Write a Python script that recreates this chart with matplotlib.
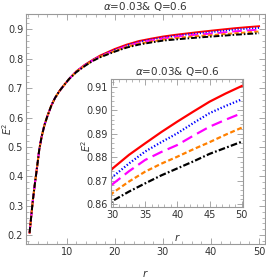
import numpy as np
import matplotlib
matplotlib.use("Agg")
import matplotlib.pyplot as plt
from matplotlib.ticker import MultipleLocator

plt.rcParams['font.family'] = ['Liberation Sans Narrow', 'DejaVu Sans']

# radius grid and E^2 values
r = [2.3, 2.6, 3.0, 3.4, 3.8, 4.3, 4.8, 5.4, 6.0, 6.8, 7.6, 8.5, 9.5, 10.5,
     12, 13.75, 15.5, 17, 20, 22.5, 25, 27.5,
     30, 32.5, 35, 37.5, 40, 42.5, 45, 47.5, 50]

base = [0.208, 0.258, 0.322, 0.375, 0.425, 0.49, 0.535, 0.575, 0.605, 0.64,
        0.667, 0.69, 0.711, 0.731]

e_red = base + [0.757, 0.779, 0.797, 0.811, 0.833, 0.848, 0.860, 0.868,
                0.8753, 0.8810, 0.8859, 0.8907, 0.8952, 0.8995, 0.9037, 0.9072, 0.9104]
e_blue = base + [0.756, 0.778, 0.796, 0.809, 0.830, 0.845, 0.857, 0.865,
                 0.8717, 0.8773, 0.8824, 0.8864, 0.8902, 0.8946, 0.8988, 0.9019, 0.9047]
e_mag = base + [0.756, 0.777, 0.795, 0.808, 0.828, 0.843, 0.854, 0.862,
                0.8686, 0.8740, 0.8788, 0.8822, 0.8852, 0.8892, 0.8930, 0.8960, 0.8988]
e_orange = base + [0.755, 0.776, 0.794, 0.807, 0.826, 0.840, 0.851, 0.858,
                   0.8648, 0.8696, 0.8738, 0.8772, 0.8802, 0.8834, 0.8864, 0.8896, 0.8926]
e_black = base + [0.754, 0.775, 0.793, 0.805, 0.824, 0.838, 0.848, 0.855,
                  0.8614, 0.8653, 0.8688, 0.8722, 0.8752, 0.8782, 0.8814, 0.8840, 0.8866]

series = [
    (e_red, '#ff0000', '-'),
    (e_blue, '#0000ff', (0, (0.6, 0.9))),
    (e_mag, '#ff00ff', (0, (5, 2.5))),
    (e_orange, '#ff8000', (0, (2.2, 1.2))),
    (e_black, '#000000', (0, (3, 1, 0.8, 1))),
]

title = r'$\alpha$=0.03& Q=0.6'
gray = '#999999'
txt = '#333333'


def style_frame(ax, xmaj, xmin, ymaj, ymin, fs):
    for s in ax.spines.values():
        s.set_color(gray)
        s.set_linewidth(0.8)
    ax.xaxis.set_major_locator(MultipleLocator(xmaj))
    ax.xaxis.set_minor_locator(MultipleLocator(xmin))
    ax.yaxis.set_major_locator(MultipleLocator(ymaj))
    ax.yaxis.set_minor_locator(MultipleLocator(ymin))
    ax.tick_params(which='both', direction='in', top=True, right=True,
                   color=gray, labelcolor=txt, labelsize=fs, pad=2)
    ax.tick_params(which='major', length=4, width=0.6)
    ax.tick_params(which='minor', length=2, width=0.5)
    ax.tick_params(axis='x', top=True, labeltop=False)
    ax.tick_params(axis='y', right=True, labelright=False)


fig = plt.figure(figsize=(2.66, 2.80), dpi=100)
ax = fig.add_axes([0.0977, 0.1286, 0.898, 0.8214])
for e, c, ls in series:
    ax.plot(r, e, color=c, linestyle=ls, lw=1.4)
ax.set_xlim(1.55, 51.2)
ax.set_ylim(0.17, 0.952)
style_frame(ax, 10, 2, 0.1, 0.02, 7)
ax.set_title(title, fontsize=7.5, color=txt, pad=3)
ax.set_xlabel('$r$', fontsize=7.5, color=txt)
ax.set_ylabel('$E^2$', fontsize=7, color=txt)
ax.xaxis.set_label_coords(0.5, -0.104)
ax.yaxis.set_label_coords(-0.05, 0.5)

ins = fig.add_axes([0.4173, 0.2607, 0.4962, 0.4571])
for e, c, ls in series:
    ins.plot(r, e, color=c, linestyle=ls, lw=1.6)
ins.set_xlim(29.7, 50.2)
ins.set_ylim(0.8587, 0.9134)
style_frame(ins, 5, 1, 0.01, 0.002, 7)
ins.set_title(title, fontsize=7.5, color=txt, pad=3)
ins.set_xlabel('$r$', fontsize=7.5, color=txt)
ins.set_ylabel('$E^2$', fontsize=7, color=txt)
ins.xaxis.set_label_coords(0.5, -0.195)
ins.yaxis.set_label_coords(-0.136, 0.48)

fig.savefig('out.png', dpi=100)
